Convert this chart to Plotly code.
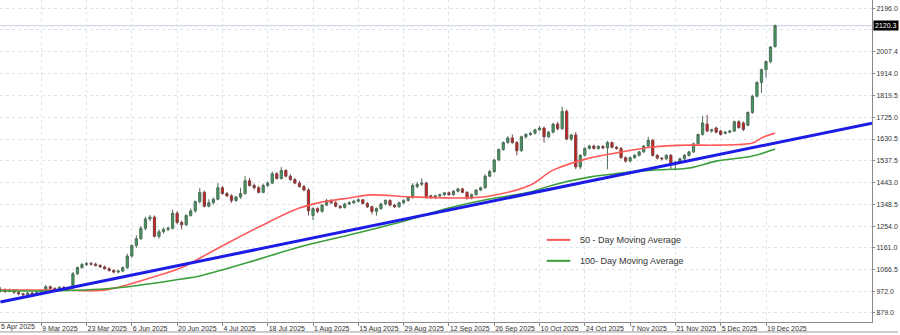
import plotly.graph_objects as go

# ---------------- data ----------------
opens = [975,980,972,978,968,962,958,965,960,968,975,992,985,978,990,982,988,1048,1075,1088,
         1092,1090,1084,1078,1070,1062,1056,1060,1075,1125,1170,1200,1245,1285,1293,1210,1230,1240,1245,1310,
         1270,1260,1300,1320,1360,1400,1340,1355,1370,1420,1395,1385,1365,1380,1395,1450,1430,1420,1400,1430,
         1440,1480,1460,1495,1470,1455,1440,1425,1410,1300,1330,1318,1345,1365,1355,1340,1335,1350,1355,1362,
         1368,1352,1338,1318,1330,1350,1365,1345,1338,1355,1365,1378,1425,1435,1440,1385,1378,1385,1390,1398,
         1390,1405,1415,1400,1375,1390,1410,1420,1470,1490,1540,1585,1615,1635,1615,1580,1640,1650,1655,1670,
         1678,1640,1660,1695,1675,1750,1630,1648,1510,1560,1590,1600,1590,1598,1592,1615,1595,1590,1550,1535,
         1550,1560,1575,1600,1625,1560,1548,1545,1560,1525,1530,1545,1560,1575,1610,1650,1695,1665,1678,1665,
         1655,1660,1665,1705,1700,1690,1745,1815,1875,1930,1965,2030]
highs = [990,985,985,982,972,966,970,972,975,980,1000,998,990,995,994,992,1056,1080,1095,1100,
         1100,1096,1090,1084,1076,1068,1066,1080,1135,1175,1215,1255,1295,1302,1300,1240,1248,1252,1325,1318,
         1278,1305,1330,1365,1420,1408,1370,1378,1440,1428,1402,1392,1385,1420,1470,1462,1438,1428,1438,1448,
         1490,1488,1510,1500,1478,1462,1450,1432,1418,1335,1336,1350,1372,1370,1362,1345,1355,1362,1368,1375,
         1372,1358,1342,1335,1355,1370,1370,1350,1360,1370,1382,1440,1445,1460,1446,1390,1390,1395,1402,1404,
         1410,1420,1420,1405,1395,1414,1425,1478,1498,1545,1590,1620,1642,1650,1622,1645,1656,1662,1675,1688,
         1684,1665,1700,1705,1770,1758,1652,1660,1565,1595,1606,1606,1604,1604,1622,1620,1600,1596,1555,1555,
         1565,1580,1605,1640,1630,1565,1552,1565,1565,1535,1550,1565,1580,1615,1655,1730,1735,1675,1684,1670,
         1665,1670,1710,1712,1706,1750,1822,1880,1935,1970,2032,2125]
lows = [968,965,968,962,955,950,952,955,956,962,970,980,972,974,976,978,982,1043,1070,1082,
        1084,1080,1074,1066,1058,1050,1050,1055,1070,1118,1160,1195,1235,1275,1205,1200,1222,1232,1240,1262,
        1240,1255,1295,1312,1352,1335,1335,1348,1365,1390,1380,1355,1358,1372,1390,1425,1412,1395,1396,1424,
        1435,1455,1455,1465,1450,1435,1420,1405,1300,1280,1310,1312,1340,1350,1335,1328,1330,1345,1350,1356,
        1348,1332,1305,1300,1325,1345,1340,1332,1334,1350,1360,1372,1418,1428,1372,1372,1372,1380,1385,1385,
        1386,1400,1396,1368,1370,1386,1405,1415,1465,1484,1535,1580,1610,1610,1560,1575,1632,1644,1650,1665,
        1615,1635,1655,1668,1670,1625,1622,1500,1500,1555,1585,1585,1584,1586,1500,1590,1584,1545,1528,1530,
        1545,1555,1570,1595,1555,1542,1538,1540,1500,1495,1525,1540,1555,1570,1605,1645,1660,1658,1655,1645,
        1650,1655,1660,1675,1665,1685,1740,1810,1830,1895,1958,2025]
closes = [980,972,978,968,962,958,965,960,968,975,992,985,978,990,982,985,1048,1075,1088,1092,
          1090,1084,1078,1070,1062,1056,1060,1075,1125,1170,1200,1245,1285,1293,1210,1230,1240,1245,1310,1270,
          1260,1300,1320,1360,1400,1340,1355,1370,1420,1395,1385,1365,1380,1395,1450,1430,1420,1400,1430,1440,
          1480,1460,1495,1470,1455,1440,1425,1410,1320,1330,1318,1345,1365,1355,1340,1335,1350,1355,1362,1368,
          1352,1338,1318,1330,1350,1365,1345,1338,1355,1365,1378,1430,1435,1440,1378,1378,1385,1390,1398,1390,
          1405,1415,1400,1375,1390,1410,1420,1470,1490,1540,1585,1615,1635,1615,1580,1640,1650,1655,1670,1678,
          1640,1660,1695,1675,1750,1630,1648,1510,1560,1590,1600,1590,1598,1592,1615,1595,1590,1550,1535,1550,
          1560,1575,1600,1625,1560,1548,1545,1560,1525,1530,1545,1560,1575,1610,1650,1700,1665,1670,1660,1650,
          1660,1665,1705,1680,1672,1745,1815,1875,1930,1965,2028,2120]
bars = list(range(len(closes)))

ma_idx = [0,13,22,26,33,40,47,57,66,71,77,82,90,103,108,117,122,130,137,144,152,158,166,168,171]
ma50 = [978,978,976,990,1030,1075,1148,1250,1332,1358,1376,1389,1381,1376,1384,1432,1496,1548,1574,1596,1604,1604,1613,1635,1656]
ma100_idx = [0,13,26,40,44,55,66,77,90,99,108,117,122,130,137,144,152,158,166,171]
ma100 = [975,975,988,1026,1039,1099,1164,1216,1281,1332,1371,1401,1432,1466,1483,1496,1505,1535,1557,1587]

trend_x = [0, 192.4]
trend_y = [926, 1699]

x_tick_idx = [9,19,29,39,49,59,69,79,89,99,109,119,129,139,149,159,169]
x_tick_text = ["9 Mar 2025","23 Mar 2025","6 Jun 2025","20 Jun 2025","4 Jul 2025","18 Jul 2025",
               "1 Aug 2025","15 Aug 2025","29 Aug 2025","12 Sep 2025","26 Sep 2025","10 Oct 2025",
               "24 Oct 2025","7 Nov 2025","21 Nov 2025","5 Dec 2025","19 Dec 2025"]
first_label = "5 Apr 2025"
y_tick_vals = [879.0,972.0,1066.5,1161.0,1254.0,1348.5,1443.0,1537.5,1630.5,1725.0,1819.5,1914.0,2007.4,2101.9,2196.0]
# the 2101.9 label sits under the price tag in the reference
y_tick_text = ["" if v == 2101.9 else "%.1f" % v for v in y_tick_vals]
last_price_text = "2120.3"
legend_names = ["50 - Day Moving Average", "100- Day Moving Average"]

# ---------------- figure ----------------
fig = go.Figure()
fig.add_trace(go.Candlestick(
    x=bars, open=opens, high=highs, low=lows, close=closes,
    increasing=dict(line=dict(color='#4f6e58', width=1), fillcolor='#3d9c5e'),
    decreasing=dict(line=dict(color='#7a4444', width=1), fillcolor='#d21a1a'),
    whiskerwidth=0, showlegend=False, hoverinfo='skip'))
fig.add_trace(go.Scatter(x=ma_idx, y=ma50, mode='lines', line=dict(color='#ff5a5a', width=1.6, shape='spline'),
                         showlegend=False, hoverinfo='skip'))
fig.add_trace(go.Scatter(x=ma100_idx, y=ma100, mode='lines', line=dict(color='#3a9e3a', width=1.6, shape='spline'),
                         showlegend=False, hoverinfo='skip'))
fig.add_trace(go.Scatter(x=trend_x, y=trend_y, mode='lines', line=dict(color='#1c1ce6', width=3),
                         showlegend=False, hoverinfo='skip'))

# current price line
fig.add_shape(type='line', xref='paper', x0=0, x1=1, yref='y', y0=closes[-1], y1=closes[-1],
              line=dict(color='#c4cde0', width=1), layer='below')
# bottom separator under date labels
fig.add_shape(type='line', xref='paper', x0=0, x1=1.03, yref='paper', y0=-0.031, y1=-0.031,
              line=dict(color='#9a9a9a', width=1))

# legend (manual)
leg_colors = ['#ff5a5a', '#3a9e3a']
leg_y = [0.255, 0.19]
for name, col, ly in zip(legend_names, leg_colors, leg_y):
    fig.add_shape(type='line', xref='paper', yref='paper', x0=0.627, x1=0.654, y0=ly, y1=ly,
                  line=dict(color=col, width=2))
    fig.add_annotation(xref='paper', yref='paper', x=0.663, y=ly, text=name, showarrow=False,
                       xanchor='left', yanchor='middle', font=dict(size=9, color='#333333', family='Liberation Sans, Arial'))

# price tag
fig.add_annotation(xref='paper', yref='y', x=1.0, y=closes[-1], text=last_price_text, showarrow=False,
                   xanchor='left', yanchor='middle', xshift=1, bgcolor='#000000', borderpad=1,
                   font=dict(size=7, color='#ffffff', family='Liberation Sans, Arial'))
# first (cut) date label
fig.add_annotation(xref='paper', yref='paper', x=0.0, y=-0.0155, text=first_label, showarrow=False,
                   xanchor='left', yanchor='middle', borderpad=0,
                   font=dict(size=7, color='#333333', family='Liberation Sans, Arial'))

fig.update_layout(
    width=900, height=335, margin=dict(l=0, r=28, t=0, b=13, autoexpand=False),
    paper_bgcolor='white', plot_bgcolor='white',
    font=dict(family='Liberation Sans, Arial', size=7, color='#333333'),
    xaxis=dict(range=[-0.1, 192.4], tickmode='array', tickvals=x_tick_idx, ticktext=x_tick_text,
               tickangle=0, automargin=False,
               ticklabelposition='outside right', ticks='outside', ticklen=3, tickcolor='#888888',
               showgrid=True, gridcolor='#dde3ef', griddash='dot', gridwidth=1,
               showline=True, linecolor='#8a8a8a', linewidth=1, zeroline=False,
               rangeslider=dict(visible=False), tickfont=dict(size=7, color='#333333'), fixedrange=True),
    yaxis=dict(range=[840, 2231], side='right', tickmode='array', tickvals=y_tick_vals, ticktext=y_tick_text,
               automargin=False,
               showgrid=True, gridcolor='#dde3ef', griddash='dot', gridwidth=1,
               showline=True, linecolor='#8a8a8a', linewidth=1, zeroline=False, ticks='outside', ticklen=2,
               tickcolor='#888888', tickfont=dict(size=7, color='#333333'), fixedrange=True),
)

fig.write_html("out.html")
